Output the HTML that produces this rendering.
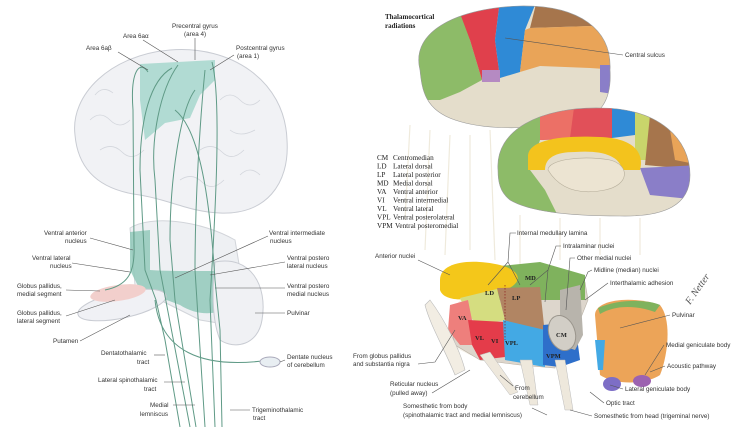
<!DOCTYPE html>
<html><head><meta charset="utf-8"><style>
html,body{margin:0;padding:0;background:#fff;}
svg{display:block;}
text{font-family:"Liberation Sans",sans-serif;font-size:6.3px;fill:#333;}
.b{font-family:"Liberation Serif",serif;font-weight:bold;fill:#222;}
.s{font-family:"Liberation Serif",serif;font-size:7.2px;fill:#222;}
.l{stroke:#555;stroke-width:0.6;fill:none;}
.f{stroke:#5f9a86;stroke-width:1;fill:none;}
</style></head><body>
<svg width="750" height="427" viewBox="0 0 750 427" xmlns="http://www.w3.org/2000/svg">
<defs>
<clipPath id="lb"><path d="M420,70 C410,30 460,8 520,6 C580,5 612,30 610,70 C612,100 600,118 575,122 C540,128 490,132 455,120 C425,110 422,90 420,70Z"/></clipPath>
<clipPath id="mb"><path d="M498,170 C495,130 540,107 600,108 C660,108 690,140 690,175 C690,205 665,217 620,216 C570,216 530,212 510,200 C500,192 498,182 498,170Z"/></clipPath>
</defs>

<!-- LEFT PANEL -->
<path d="M75,135 C70,95 110,55 170,50 C230,45 285,80 287,140 C290,185 265,215 220,213 C190,212 170,200 140,195 C100,190 78,170 75,135Z" fill="#f1f2f5" stroke="#c9ccd3" stroke-width="1"/>
<g stroke="#d3d6dc" stroke-width="0.8" fill="none">
<path d="M90,120 q10,-10 20,0 t20,0"/><path d="M100,150 q12,-8 22,2 t22,-2"/><path d="M200,150 q12,-8 22,2 t22,-2"/>
<path d="M220,100 q10,-10 20,0 t20,0"/><path d="M180,180 q12,-8 22,2 t22,-2"/><path d="M240,175 q10,-10 20,0"/>
<path d="M95,95 q8,-10 18,-2"/><path d="M230,130 q10,8 25,0"/>
</g>
<path d="M140,64 L215,60 L215,80 L200,95 L190,118 L165,123 L145,140 L140,100Z" fill="#a6d7cd" opacity="0.85"/>
<path d="M130,228 C150,215 200,220 235,240 L240,270 L230,325 L200,320 L160,300 L135,285Z" fill="#eef0f3" stroke="#d2d5da"/>
<path d="M130,232 L150,230 L150,270 C180,272 215,270 235,272 L238,300 C225,315 200,318 180,305 L140,290 L130,270Z" fill="#86c4b3" opacity="0.75"/>
<path d="M215,262 C250,255 268,285 262,320 C258,345 235,350 220,340 C212,320 212,290 215,262Z" fill="#f0f1f4" stroke="#c9ccd3"/>
<ellipse cx="122" cy="305" rx="45" ry="13" transform="rotate(-12 122 305)" fill="#f0f1f5" stroke="#c9ccd3"/>
<ellipse cx="118" cy="293" rx="28" ry="8" transform="rotate(-8 118 293)" fill="#f2cfcc"/>
<path class="f" d="M148,72 C140,60 130,70 133,110 L134,245 C135,270 130,285 105,290"/>
<path class="f" d="M172,68 C150,80 140,120 140,170 L145,270 L156,300 L165,340 L180,427"/>
<path class="f" d="M178,65 C160,90 150,140 155,180 L160,270 L190,427"/>
<path class="f" d="M195,90 C180,110 170,180 170,240 L175,300 L196,427"/>
<path class="f" d="M205,70 C200,120 195,200 195,270 L205,427"/>
<path class="f" d="M212,62 C222,100 215,220 210,300 L215,427"/>
<path class="f" d="M175,110 C200,130 210,200 215,280 L220,330 L222,427"/>
<path class="f" d="M155,300 C160,350 200,370 270,360"/>
<ellipse cx="270" cy="362" rx="10" ry="5" fill="#e8eef2" stroke="#aab"/>
<text x="172" y="28">Precentral gyrus</text><text x="184" y="36">(area 4)</text>
<path class="l" d="M195,38 L195,60"/>
<text x="123" y="38">Area 6aα</text><path class="l" d="M143,40 L178,62"/>
<text x="86" y="50">Area 6aβ</text><path class="l" d="M118,52 L148,70"/>
<text x="236" y="50">Postcentral gyrus</text><text x="237" y="58">(area 1)</text><path class="l" d="M234,55 L210,70"/>
<text x="44" y="235">Ventral anterior</text><text x="65" y="243">nucleus</text><path class="l" d="M90,238 L133,250"/>
<text x="32" y="260">Ventral lateral</text><text x="50" y="268">nucleus</text><path class="l" d="M72,263 L130,272"/>
<text x="17" y="288">Globus pallidus,</text><text x="17" y="296">medial segment</text><path class="l" d="M66,290 L100,291"/>
<text x="17" y="315">Globus pallidus,</text><text x="17" y="323">lateral segment</text><path class="l" d="M66,316 L115,300"/>
<text x="53" y="343">Putamen</text><path class="l" d="M80,341 L130,315"/>
<text x="101" y="355">Dentatothalamic</text><text x="137" y="364">tract</text><path class="l" d="M154,355 L165,355"/>
<text x="98" y="382">Lateral spinothalamic</text><text x="144" y="391">tract</text><path class="l" d="M164,382 L185,382"/>
<text x="150" y="407">Medial</text><text x="140" y="416">lemniscus</text><path class="l" d="M173,405 L195,405"/>
<text x="269" y="235">Ventral intermediate</text><text x="270" y="243">nucleus</text><path class="l" d="M268,236 L175,278"/>
<text x="287" y="260">Ventral postero</text><text x="287" y="268">lateral nucleus</text><path class="l" d="M285,262 L210,275"/>
<text x="287" y="288">Ventral postero</text><text x="287" y="296">medial nucleus</text><path class="l" d="M285,288 L215,288"/>
<text x="287" y="315">Pulvinar</text><path class="l" d="M285,313 L255,313"/>
<text x="287" y="359">Dentate nucleus</text><text x="287" y="367">of cerebellum</text><path class="l" d="M285,360 L280,362"/>
<text x="252" y="412">Trigeminothalamic</text><text x="253" y="420">tract</text><path class="l" d="M250,410 L230,410"/>

<!-- RIGHT PANEL -->
<g stroke="#ece6d4" stroke-width="1.2" opacity="0.8">
<path d="M430,130 L425,250"/><path d="M450,135 L445,255"/><path d="M470,135 L470,250"/><path d="M490,130 L495,260"/><path d="M520,215 L520,265"/><path d="M560,218 L560,260"/><path d="M600,218 L600,255"/><path d="M640,218 L640,255"/><path d="M410,125 L405,220"/>
</g>
<g clip-path="url(#lb)">
<rect x="400" y="0" width="220" height="140" fill="#e4ddcb"/>
<path d="M400,0 L465,0 L470,40 L482,80 L460,92 L440,100 L400,100Z" fill="#8dbb68"/>
<path d="M455,0 L500,0 L495,40 L500,78 L482,80 L470,40Z" fill="#e0404c"/>
<path d="M500,0 L537,0 L525,30 L520,72 L500,78 L495,40Z" fill="#2f8ad6"/>
<path d="M537,0 L620,0 L620,25 L530,28Z" fill="#a6754c"/>
<path d="M530,28 L620,25 L620,70 L590,68 L540,66 L520,72 L525,30Z" fill="#e9a458"/>
<path d="M600,65 L620,65 L620,95 L600,92Z" fill="#8a7ec8"/>
<path d="M482,70 L500,70 L500,82 L482,82Z" fill="#b58ac2"/>
</g>
<path d="M420,70 C410,30 460,8 520,6 C580,5 612,30 610,70 C612,100 600,118 575,122 C540,128 490,132 455,120 C425,110 422,90 420,70Z" fill="none" stroke="#999" stroke-width="0.6"/>
<g clip-path="url(#mb)">
<rect x="490" y="100" width="210" height="120" fill="#e4ddcb"/>
<path d="M490,100 L545,100 L540,140 L530,170 L545,190 L560,220 L490,220Z" fill="#8dbb68"/>
<path d="M540,100 L615,100 L612,138 L540,140Z" fill="#e0404c" opacity="0.9"/>
<path d="M540,100 L575,100 L570,138 L540,140Z" fill="#ec7066"/>
<path d="M612,100 L640,100 L635,135 L612,138Z" fill="#2f8ad6"/>
<path d="M635,110 L660,110 L650,160 L635,160Z" fill="#c9d56b"/>
<path d="M650,115 L700,115 L700,170 L645,165Z" fill="#a6754c"/>
<path d="M670,130 L700,130 L700,165 L675,160Z" fill="#e9a458"/>
<path d="M640,168 L700,165 L700,200 L650,195Z" fill="#8a7ec8"/>
<path d="M528,155 C530,140 560,135 600,137 C630,138 645,150 640,170 L622,170 C620,155 600,150 575,152 C555,152 545,158 545,170 L528,170Z" fill="#f3c31d"/>
<path d="M548,170 C548,160 580,155 610,160 C630,165 630,185 605,190 C580,195 560,190 548,170Z" fill="#ece4d2" stroke="#b5ad9a" stroke-width="0.6"/>
</g>
<path d="M498,170 C495,130 540,107 600,108 C660,108 690,140 690,175 C690,205 665,217 620,216 C570,216 530,212 510,200 C500,192 498,182 498,170Z" fill="none" stroke="#999" stroke-width="0.6"/>

<path d="M455,320 C450,300 470,290 490,295 L500,360 L470,355 L450,345Z" fill="#f5f1e8"/>
<path d="M470,296 L480,300 L490,280 L515,275 L560,270 L585,282 L588,300 L580,320 L560,345 L555,368 L520,365 L480,360 L455,345 L450,320Z" fill="#ddd6cc" stroke="#b8b0a4" stroke-width="0.6"/>
<path d="M480,268 L540,262 L585,275 L585,300 L560,300 L520,300 L495,300Z" fill="#7fb25d"/>
<path d="M440,280 C440,262 470,258 500,265 C520,270 525,282 505,290 C480,300 445,305 440,290Z" fill="#f4c71a"/>
<path d="M460,298 L497,289 L505,320 L480,325 L468,316Z" fill="#d5dd80"/>
<path d="M497,288 L540,287 L545,335 L512,335 L505,320Z" fill="#b18563"/>
<path d="M450,305 L468,300 L472,320 L475,345 L460,345 L448,330Z" fill="#ee7f7c"/>
<path d="M468,320 L505,322 L505,357 L480,360 L472,345Z" fill="#e43c4a"/>
<path d="M503,320 L545,330 L545,367 L505,360Z" fill="#43a9e4"/>
<path d="M543,325 L575,322 L580,360 L560,367 L543,365Z" fill="#2e6fca"/>
<path d="M560,290 L580,285 L583,335 L575,350 L560,345Z" fill="#b8b4ac"/>
<ellipse cx="562" cy="333" rx="13" ry="18" transform="rotate(-20 562 333)" fill="#d2cec6" stroke="#9a958c"/>
<path d="M595,315 C595,300 630,295 660,305 C672,320 668,355 660,375 C645,385 615,385 600,375Z" fill="#eca458"/>
<path d="M598,308 C620,298 650,300 660,305 L655,312 C635,305 615,305 600,314Z" fill="#7fb25d"/>
<path d="M595,340 L605,340 L603,370 L598,370Z" fill="#43a9e4"/>
<ellipse cx="612" cy="384" rx="9" ry="7" fill="#7d6ec6"/><ellipse cx="642" cy="381" rx="9" ry="6" fill="#9c62b0"/>
<path d="M430,300 C445,320 460,350 465,370 L455,375 C445,350 430,325 425,305Z" fill="#f2ede3" stroke="#bbb" stroke-width="0.6"/>
<path d="M520,360 L530,405 L538,405 L532,360Z M555,360 L565,410 L573,410 L565,360Z" fill="#eee8dc" stroke="#bbb" stroke-width="0.5"/>
<path d="M480,355 L510,395 L518,392 L490,352Z" fill="#eee8dc" stroke="#bbb" stroke-width="0.5"/>
<path d="M505,285 L505,340" stroke="#8a1c1c" stroke-dasharray="1.5,1.5" stroke-width="0.7"/>
<text class="b" x="485" y="295" style="font-size:6.5px">LD</text>
<text class="b" x="512" y="300" style="font-size:6.5px">LP</text>
<text class="b" x="525" y="280" style="font-size:6.5px">MD</text>
<text class="b" x="458" y="320" style="font-size:6.5px">VA</text>
<text class="b" x="475" y="340" style="font-size:6.5px">VL</text>
<text class="b" x="491" y="343" style="font-size:6.5px">VI</text>
<text class="b" x="505" y="345" style="font-size:6.5px">VPL</text>
<text class="b" x="546" y="358" style="font-size:6.5px">VPM</text>
<text class="b" x="556" y="337" style="font-size:6.5px">CM</text>

<text class="b" x="385" y="19" style="font-size:7px">Thalamocortical</text>
<text class="b" x="385" y="28" style="font-size:7px">radiations</text>
<text x="625" y="57">Central sulcus</text><path class="l" d="M623,55 L505,38"/>
<text class="s" x="377" y="160">CM</text><text class="s" x="393" y="160">Centromedian</text>
<text class="s" x="377" y="168.5">LD</text><text class="s" x="393" y="168.5">Lateral dorsal</text>
<text class="s" x="377" y="177">LP</text><text class="s" x="393" y="177">Lateral posterior</text>
<text class="s" x="377" y="185.5">MD</text><text class="s" x="393" y="185.5">Medial dorsal</text>
<text class="s" x="377" y="194">VA</text><text class="s" x="393" y="194">Ventral anterior</text>
<text class="s" x="377" y="202.5">VI</text><text class="s" x="393" y="202.5">Ventral intermedial</text>
<text class="s" x="377" y="211">VL</text><text class="s" x="393" y="211">Ventral lateral</text>
<text class="s" x="377" y="219.5">VPL</text><text class="s" x="393" y="219.5">Ventral posterolateral</text>
<text class="s" x="377" y="228">VPM</text><text class="s" x="395" y="228">Ventral posteromedial</text>
<text x="517" y="235">Internal medullary lamina</text><path class="l" d="M516,233 L510,233 L508,262 M508,262 L488,285 M508,262 L520,285"/>
<text x="563" y="248">Intralaminar nuclei</text><path class="l" d="M561,246 L556,246 L548,270 L530,285 M548,270 L545,302"/>
<text x="577" y="260">Other medial nuclei</text><path class="l" d="M575,258 L570,258 L566,310"/>
<text x="594" y="272">Midline (median) nuclei</text><path class="l" d="M592,270 L588,272 L580,290"/>
<text x="610" y="285">Interthalamic adhesion</text><path class="l" d="M608,283 L585,300"/>
<text x="375" y="258">Anterior nuclei</text><path class="l" d="M418,260 L450,275"/>
<text x="672" y="317">Pulvinar</text><path class="l" d="M670,315 L620,328"/>
<text x="666" y="347">Medial geniculate body</text><path class="l" d="M664,345 L645,375"/>
<text x="667" y="368">Acoustic pathway</text><path class="l" d="M665,366 L650,372"/>
<text x="625" y="391">Lateral geniculate body</text><path class="l" d="M623,389 L610,385"/>
<text x="606" y="405">Optic tract</text><path class="l" d="M604,403 L590,392"/>
<text x="594" y="418">Somesthetic from head (trigeminal nerve)</text><path class="l" d="M592,416 L570,410"/>
<text x="403" y="408">Somesthetic from body</text>
<text x="403" y="417">(spinothalamic tract and medial lemniscus)</text><path class="l" d="M547,415 L532,408"/>
<text x="390" y="386">Reticular nucleus</text><text x="390" y="395">(pulled away)</text><path class="l" d="M432,393 L470,370"/>
<text x="515" y="390">From</text><text x="513" y="399">cerebellum</text><path class="l" d="M513,386 L500,375"/>
<text x="353" y="358">From globus pallidus</text><text x="353" y="366">and substantia nigra</text><path class="l" d="M418,364 L435,362 L455,330"/>
<text x="690" y="305" style="font-family:'Liberation Serif',serif;font-style:italic;font-size:10px;fill:#555" transform="rotate(-55 690 305)">F. Netter</text>
</svg>
</body></html>
